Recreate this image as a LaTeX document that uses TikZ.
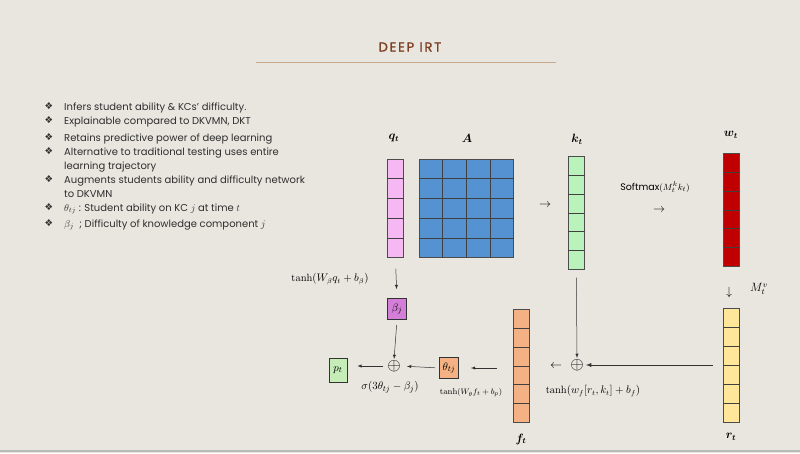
\documentclass[tikz,border=0pt]{standalone}
\usepackage{amsmath}
\usepackage{bm}
\usepackage{fontspec}
\setsansfont{Poppins}
\newfontfamily\symfont{DejaVu Sans}
\newfontfamily\titlefont[LetterSpace=14, FakeBold=1.2]{Poppins}
\usepackage{tikz}
\usetikzlibrary{calc}

\definecolor{bgcol}{HTML}{E9E6E0}
\definecolor{titlecol}{HTML}{7E3F22}
\definecolor{rulecol}{HTML}{C9A98C}
\definecolor{textcol}{HTML}{2E2E2E}
\definecolor{qcol}{HTML}{F5B8F2}
\definecolor{acol}{HTML}{5592D2}
\definecolor{kcol}{HTML}{B9F2BB}
\definecolor{wcol}{HTML}{C00000}
\definecolor{rcol}{HTML}{FFE699}
\definecolor{fcol}{HTML}{F4B183}
\definecolor{bcol}{HTML}{D37FD8}
\definecolor{pcol}{HTML}{C6EDB8}

\begin{document}
\begin{tikzpicture}[
  x=1pt, y=-1pt,
  vec/.style={draw=black!70, line width=0.6pt, minimum width=16pt, inner sep=0, anchor=north west},
  cell/.style={draw=black!75, line width=0.5pt},
  gate/.style={draw=black!80, line width=0.6pt, minimum width=19pt, minimum height=21pt, inner sep=0,
    font=\fontsize{11}{12}\selectfont},
  lab/.style={font=\fontsize{12}{14}\selectfont, inner sep=0},
  eq/.style={font=\fontsize{10.5}{12}\selectfont, inner sep=0},
  item/.style={anchor=base west, align=left, inner sep=0, text=textcol,
    font=\sffamily\fontsize{10}{14}\selectfont},
  bul/.style={inner sep=0, text=textcol, font=\symfont\fontsize{9.5}{10}\selectfont},
  arr/.style={->, >=latex, line width=0.5pt, black!80},
  sym/.style={inner sep=0, font=\fontsize{12}{12}\selectfont},
  plus/.style={inner sep=0, font=\fontsize{17}{17}\selectfont}
]
\useasboundingbox (0,0) rectangle (800,453);
\fill[bgcol] (0,0) rectangle (800,453);
\draw[gray!55, line width=1.5pt] (0,451) -- (800,451);

% Title
\node[text=titlecol, font=\titlefont\fontsize{13}{15}\selectfont] (title) at (410,47) {DEEP IRT};
\draw[rulecol, line width=0.6pt] (256,62) -- (556,62);

% Bullet list
\foreach \y in {110,124,141,155,183,211,227}
  \node[bul] (d\y) at (49,\y-3.5) {❖};
\node[item] (b1) at (64,110) {Infers student ability \& KCs' difficulty.};
\node[item] (b2) at (64,124) {Explainable compared to DKVMN, DKT};
\node[item] (b3) at (64,141) {Retains predictive power of deep learning};
\node[item] (b4) at (64,169) {Alternative to traditional testing uses entire\\learning trajectory};
\node[item] (b5) at (64,197) {Augments students ability and difficulty network\\to DKVMN};
\node[item] (b6) at (64,211) {$\theta_{tj}$ : Student ability on KC $j$ at time $t$};
\node[item] (b7) at (64,227) {$\beta_j$ \ ; Difficulty of knowledge component $j$};

% Memory vectors
\node[vec, fill=qcol, minimum height=98pt] (qt) at (387,159) {};
\node[vec, fill=acol, minimum width=94pt, minimum height=98pt] (A) at (419,159) {};
\node[vec, fill=kcol, minimum height=113pt] (kt) at (568,156) {};
\node[vec, fill=wcol, minimum height=113pt] (wt) at (723,153) {};
\node[vec, fill=rcol, minimum height=114pt] (rt) at (723,308) {};
\node[vec, fill=fcol, minimum height=113pt] (ft) at (513,309) {};

\foreach \i in {1,...,4} {
  \draw[cell] ($(qt.north west)!\i/5!(qt.south west)$) -- ($(qt.north east)!\i/5!(qt.south east)$);
  \draw[cell] ($(A.north west)!\i/5!(A.south west)$) -- ($(A.north east)!\i/5!(A.south east)$);
}
\foreach \i in {1,...,3}
  \draw[cell] ($(A.north west)!\i/4!(A.north east)$) -- ($(A.south west)!\i/4!(A.south east)$);
\foreach \v in {kt,wt,rt,ft}
  \foreach \i in {1,...,5}
    \draw[cell] ($(\v.north west)!\i/6!(\v.south west)$) -- ($(\v.north east)!\i/6!(\v.south east)$);

% Labels
\node[lab] (qtlab) at (394,138) {$\bm{q_t}$};
\node[lab] (Alab) at (467,138) {$\bm{A}$};
\node[lab] (ktlab) at (577,139) {$\bm{k_t}$};
\node[lab] (wtlab) at (731,135) {$\bm{w_t}$};
\node[lab] (rtlab) at (731,437) {$\bm{r_t}$};
\node[lab] (ftlab) at (521,439) {$\bm{f_t}$};

\node[sym] (ar1) at (545,205) {$\rightarrow$};
\node[sym] (ar2) at (659,210) {$\rightarrow$};
\node[sym] (ar3) at (729,292) {$\downarrow$};
\node[sym] (ar4) at (556,366) {$\leftarrow$};
\node[eq] (soft) at (655,187) {\sffamily\fontsize{9.5}{11}\selectfont Softmax$(M_t^k k_t)$};
\node[lab] (Mv) at (759,289) {$M_t^v$};

% Gates
\node[plus] (op1) at (577,365) {$\oplus$};
\node[plus] (op2) at (394,366) {$\oplus$};
\node[gate, fill=bcol] (beta) at (397,309) {$\beta_j$};
\node[gate, fill=fcol] (theta) at (449,368) {$\theta_{tj}$};
\node[gate, fill=pcol, minimum width=18pt, minimum height=24pt] (pt) at (338,370) {$p_t$};

\node[eq] (eqb) at (330,279) {$\tanh(W_\beta q_t + b_\beta)$};
\node[eq] (eqf) at (593,391) {$\tanh(w_f[r_t,k_t] + b_f)$};
\node[eq, font=\fontsize{8.5}{10}\selectfont] (eqt) at (471,393) {$\tanh(W_\theta f_t + b_p)$};
\node[eq, font=\fontsize{11}{12}\selectfont] (eqp) at (390,387) {$\sigma(3\theta_{tj} - \beta_j)$};

% Connections
\draw[arr, shorten <=8pt, shorten >=1pt] (kt.south) -- (op1.north);
\draw[arr, line width=0.9pt, shorten <=10pt, shorten >=2pt] (rt.west |- op1) -- (op1.east);
\draw[arr, shorten <=16pt, shorten >=12pt] (ft.west |- theta) -- (theta.east);
\draw[arr, shorten <=4pt, shorten >=6pt] (theta.west) -- (op2.east);
\draw[arr, shorten <=5pt, shorten >=1pt] (beta.south) -- (op2.north);
\draw[arr, shorten <=4pt, shorten >=10pt] (op2.west) -- (pt.east |- op2);
\draw[arr, shorten <=11pt, shorten >=9pt] (qt.south) -- (beta.north);

\end{tikzpicture}
\end{document}
